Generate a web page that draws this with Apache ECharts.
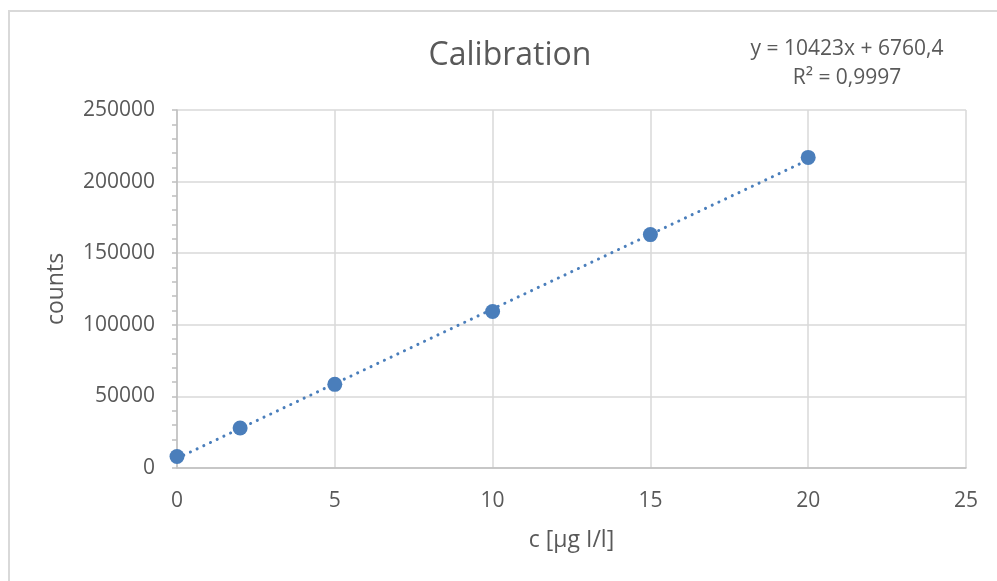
<!DOCTYPE html>
<html>
<head>
<meta charset="utf-8">
<script src="https://cdn.jsdelivr.net/npm/echarts@6/dist/echarts.min.js"></script>
<style>
  html, body { margin: 0; padding: 0; background: #fff; }
  #chart { width: 997px; height: 581px; }
</style>
</head>
<body>
<div id="chart"></div>
<script>
// Calibration standards: concentration and measured counts
const concentrations = [0, 2, 5, 10, 15, 20];
const counts = [8000, 27900, 58400, 109300, 163000, 216900];

// Linear fit shown on the chart
const trendSlope = 10423;
const trendIntercept = 6760.4;
const trendR2 = 0.9997;
const trendRange = [0, 20];

const xTicks = [0, 5, 10, 15, 20, 25];
const yTicks = [0, 50000, 100000, 150000, 200000, 250000];

const fmtComma = v => String(v).replace('.', ',');
const eqText = 'y = ' + fmtComma(trendSlope) + 'x + ' + fmtComma(trendIntercept);
const r2Text = 'R² = ' + fmtComma(trendR2);

const pointData = concentrations.map((c, i) => [c, counts[i]]);
const trendData = trendRange.map(x => [x, trendSlope * x + trendIntercept]);

const textColor = '#595959';
const font = 'Open Sans';
const markColor = '#4a7ebb';

const chart = echarts.init(document.getElementById('chart'), null, { renderer: 'canvas' });
chart.setOption({
  animation: false,
  backgroundColor: '#ffffff',
  title: {
    text: 'Calibration',
    left: 505, top: 35, textAlign: 'center',
    textStyle: { fontFamily: font, fontSize: 32, fontWeight: 'normal', color: textColor }
  },
  graphic: [
    { type: 'line', shape: { x1: 9, y1: 10, x2: 9, y2: 581 }, style: { stroke: '#d9d9d9', lineWidth: 2 } },
    { type: 'line', shape: { x1: 8, y1: 11, x2: 997, y2: 11 }, style: { stroke: '#d9d9d9', lineWidth: 2 } },
    { type: 'text', x: 847, y: 49, style: { text: eqText, align: 'center', verticalAlign: 'middle', font: '21px "Open Sans"', fill: textColor } },
    { type: 'text', x: 847, y: 78, style: { text: r2Text, align: 'center', verticalAlign: 'middle', font: '21px "Open Sans"', fill: textColor } }
  ],
  grid: { left: 177, right: 31, top: 110, bottom: 113, containLabel: false },
  xAxis: {
    type: 'value',
    min: xTicks[0], max: xTicks[xTicks.length - 1], interval: 5,
    name: 'c [µg I/l]', nameLocation: 'middle', nameGap: 61,
    nameTextStyle: { fontFamily: font, fontSize: 23, color: textColor },
    axisLine: { show: true, onZero: false, lineStyle: { color: '#bfbfbf', width: 1.5 } },
    axisTick: { show: false },
    axisLabel: { fontFamily: font, fontSize: 21, color: textColor, margin: 23 },
    splitLine: { show: true, lineStyle: { color: '#d9d9d9', width: 1.5 } }
  },
  yAxis: {
    type: 'value',
    min: yTicks[0], max: yTicks[yTicks.length - 1], interval: 50000,
    name: 'counts', nameLocation: 'middle', nameGap: 109, nameRotate: 90,
    nameTextStyle: { fontFamily: font, fontSize: 23, color: textColor },
    axisLine: { show: true, lineStyle: { color: '#bfbfbf', width: 1.5 } },
    axisTick: { show: true, length: 5, lineStyle: { color: '#bfbfbf', width: 1.5 } },
    minorTick: { show: true, splitNumber: 5, length: 5, lineStyle: { color: '#bfbfbf', width: 1.5 } },
    axisLabel: { fontFamily: font, fontSize: 21, color: textColor, margin: 22, formatter: v => String(v) },
    splitLine: { show: true, lineStyle: { color: '#d9d9d9', width: 1.5 } }
  },
  series: [
    {
      type: 'line',
      data: trendData,
      symbol: 'none',
      lineStyle: { color: markColor, width: 3, type: [0.1, 7.3], cap: 'round' },
      z: 2,
      silent: true
    },
    {
      type: 'scatter',
      data: pointData,
      symbol: 'circle',
      symbolSize: 15,
      itemStyle: { color: markColor, opacity: 1 },
      z: 3
    }
  ]
});
</script>
</body>
</html>
